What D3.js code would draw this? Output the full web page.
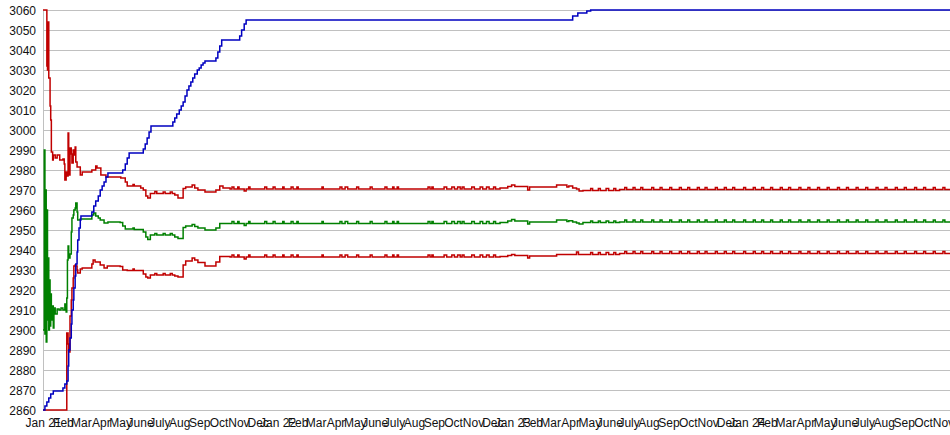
<!DOCTYPE html>
<html><head><meta charset="utf-8">
<script src="https://cdn.jsdelivr.net/npm/d3@7"></script>
<style>
html,body{margin:0;padding:0;background:#fff;}
svg{display:block;}
text{font-family:"Liberation Sans",Arial,sans-serif;}
</style></head>
<body><svg id="chart" width="950" height="435"></svg>
<script>
// ---------------- DATA ----------------
const startDate = "2021-01-01";
const endDay = 1411; // last day of data (days since startDate)
const yTicks = [2860,2870,2880,2890,2900,2910,2920,2930,2940,2950,2960,2970,2980,2990,3000,3010,3020,3030,3040,3050,3060];
const monthNames = ["Jan","Feb","Mar","Apr","May","June","July","Aug","Sep","Oct","Nov","Dec"];
const tickMonths = ["2021-01","2021-02","2021-03","2021-04","2021-05","2021-06","2021-07","2021-08","2021-09","2021-10","2021-11","2021-12",
 "2022-01","2022-02","2022-03","2022-04","2022-05","2022-06","2022-07","2022-08","2022-09","2022-10","2022-11","2022-12",
 "2023-01","2023-02","2023-03","2023-04","2023-05","2023-06","2023-07","2023-08","2023-09","2023-10","2023-11","2023-12",
 "2024-01","2024-02","2024-03","2024-04","2024-05","2024-06","2024-07","2024-08","2024-09","2024-10","2024-11"];

// [day since start, value]
const bluePoints = [[0,2860],[3,2862],[6,2864],[9,2866],[12,2868],[16,2869.5],[31,2871],[34,2873],[37,2874.5],[39,2882],[40,2890],[42,2896],[44,2903],[45,2910],[47,2915],[48,2921],[50,2927],[51,2933],[53,2939],[54,2945],[56,2951],[58,2955],[59,2957],[76,2959],[79,2962],[82,2964.5],[86,2967],[89,2970],[92,2972],[95,2974],[98,2976.5],[101,2978.5],[124,2980],[128,2983],[131,2986],[134,2988.5],[156,2990.5],[159,2993],[162,2996],[165,2999],[168,3002],[202,3004],[205,3006],[208,3008],[212,3010],[215,3012],[218,3014],[221,3017],[224,3020],[227,3022],[230,3024],[233,3026],[236,3028],[240,3030],[243,3031],[246,3032.5],[249,3033.5],[252,3034.5],[269,3036],[272,3039],[275,3042],[278,3045],[306,3047],[309,3050],[313,3053],[316,3055],[824,3057],[832,3058.5],[846,3059.5],[852,3060],[1411,3060]];

const upperPoints = [[0,3060],[6,3032],[7,3030],[8,3054],[9,3026],[11,3012],[12,3005],[13,2989],[15,2985],[16,2987.5],[19,2986],[22,2987.5],[26,2985],[31,2985.5],[33,2983],[34,2975],[36,2979],[37,2977],[39,2998.5],[40,2977.5],[42,2991],[44,2988],[45,2983.5],[47,2990],[48,2987.5],[50,2991.5],[51,2984],[53,2981.5],[58,2977.5],[61,2979],[76,2980],[82,2982],[84,2981],[90,2977.5],[98,2976.5],[121,2976],[128,2974],[131,2972],[140,2972.8],[142,2972],[152,2971],[156,2970],[160,2967],[163,2966],[167,2968.3],[174,2969.3],[177,2968.3],[187,2969],[190,2968.3],[198,2969],[201,2968.3],[205,2967.5],[210,2966],[218,2970.8],[222,2971.5],[232,2972.5],[236,2971],[241,2970],[252,2969],[269,2970],[275,2972],[280,2971],[291,2970.5],
 [294,2971.5],[297,2970.5],[303,2971.5],[305,2970.5],[313,2969.5],[316,2970.5],[320,2971.5],[322,2970.5],[345,2971.5],[348,2970.5],[358,2971.5],[361,2970.5],[373,2971.5],[375,2970.5],[386,2971.5],[389,2970.5],[395,2971.5],[397,2970.5],[434,2971.5],[436,2970.5],[462,2971.5],[465,2970.5],[470,2971.5],[474,2970.5],[488,2971.5],[491,2970.5],[509,2971.5],[512,2970.5],[532,2971.5],[535,2970.5],[544,2971.5],[546,2970.5],[551,2971.5],[553,2970.5],[599,2971.5],[602,2970.5],[605,2971.5],[607,2970.5],[624,2971.5],[628,2970.5],[636,2971.5],[640,2970.5],[645,2971.5],[649,2970.5],[652,2971.5],[655,2970.5],[667,2971.5],[671,2970.5],[680,2971.5],[684,2970.5],[690,2971.5],[694,2970.5],[701,2971.5],[704,2970.5],
 [711,2971],[723,2971.7],[729,2972.5],[734,2971.7],[754,2970],[757,2971.5],[799,2972.5],[815,2971.5],[818,2972],[824,2971],[830,2970.5],[834,2969.5],[840,2969.8],[852,2970.8],[855,2969.8],[864,2970.8],[867,2969.8],[876,2970.8],[880,2969.8],[888,2970.8],[891,2969.8],[897,2970.3],
 [905,2971.3],[908,2970.3],[918,2971.3],[921,2970.3],[930,2971.3],[933,2970.3],[947,2971.3],[950,2970.3],[960,2971.3],[963,2970.3],[975,2971.3],[978,2970.3],[990,2971.3],[993,2970.3],[1003,2971.3],[1006,2970.3],[1018,2971.3],[1021,2970.3],[1030,2971.3],[1033,2970.3],[1046,2971.3],[1049,2970.3],[1060,2971.3],[1063,2970.3],[1073,2971.3],[1076,2970.3],[1090,2971.3],[1093,2970.3],[1105,2971.3],[1108,2970.3],[1118,2971.3],[1121,2970.3],[1132,2971.3],[1135,2970.3],[1147,2971.3],[1150,2970.3],[1160,2971.3],[1163,2970.3],[1176,2971.3],[1179,2970.3],[1190,2971.3],[1193,2970.3],[1205,2971.3],[1208,2970.3],[1220,2971.3],[1223,2970.3],[1236,2971.3],[1239,2970.3],[1250,2971.3],[1253,2970.3],[1265,2971.3],[1268,2970.3],[1280,2971.3],[1283,2970.3],[1296,2971.3],[1299,2970.3],[1310,2971.3],[1313,2970.3],[1326,2971.3],[1329,2970.3],[1340,2971.3],[1343,2970.3],[1356,2971.3],[1359,2970.3],[1370,2971.3],[1373,2970.3],[1385,2971.3],[1388,2970.3],[1400,2971.3],[1403,2970.3],[1411,2970.3]];

const greenPoints = [[0,2900],[2,2990],[3,2898],[4,2970],[5,2894],[6,2960],[7,2905],[8,2936],[9,2900],[10,2925],[11,2902],[12,2918],[13,2905],[14,2912],[16,2901],[17,2911],[19,2908],[22,2910.5],[25,2910],[28,2911],[31,2910],[34,2913],[36,2909],[37,2916],[38,2935],[39,2942],[40,2936],[42,2938],[44,2949],[45,2956],[47,2957.5],[48,2960],[50,2961],[51,2963.5],[53,2959],[54,2955],[58,2955.5],[76,2957.5],[79,2958.5],[82,2957],[86,2956],[89,2955],[95,2953.5],[101,2954],[120,2953.7],[124,2952],[128,2950.5],[140,2951],[142,2950.3],[156,2949],[160,2946.5],[163,2945.3],[167,2947.5],[174,2948.3],[177,2947.5],[187,2948.2],[190,2947.5],[198,2948.2],[201,2947.5],[205,2946.5],[210,2945.8],[218,2951.3],[222,2952],[232,2952.7],[236,2951.7],[241,2951],[252,2950],[269,2951],[275,2953.3],[291,2953.3],
 [294,2954.3],[297,2953.3],[303,2954.3],[305,2953.3],[313,2952.3],[316,2953.3],[320,2954.3],[322,2953.3],[345,2954.3],[348,2953.3],[358,2954.3],[361,2953.3],[373,2954.3],[375,2953.3],[386,2954.3],[389,2953.3],[395,2954.3],[397,2953.3],[434,2954.3],[436,2953.3],[462,2954.3],[465,2953.3],[470,2954.3],[474,2953.3],[488,2954.3],[491,2953.3],[509,2954.3],[512,2953.3],[532,2954.3],[535,2953.3],[544,2954.3],[546,2953.3],[551,2954.3],[553,2953.3],[599,2954.3],[602,2953.3],[605,2954.3],[607,2953.3],[624,2954.3],[628,2953.3],[636,2954.3],[640,2953.3],[645,2954.3],[649,2953.3],[652,2954.3],[655,2953.3],[667,2954.3],[671,2953.3],[680,2954.3],[684,2953.3],[690,2954.3],[694,2953.3],[701,2954.3],[704,2953.3],
 [711,2953.8],[723,2954.5],[729,2955.2],[734,2954.5],[754,2953],[757,2954],[799,2955],[815,2954.2],[818,2954.6],[824,2954],[830,2953.5],[834,2953],[840,2953.7],[852,2954.5],[855,2953.7],[864,2954.5],[867,2953.7],[876,2954.5],[880,2953.7],[888,2954.5],[891,2953.7],[897,2954],
 [905,2955],[908,2954],[918,2955],[921,2954],[930,2955],[933,2954],[947,2955],[950,2954],[960,2955],[963,2954],[975,2955],[978,2954],[990,2955],[993,2954],[1003,2955],[1006,2954],[1018,2955],[1021,2954],[1030,2955],[1033,2954],[1046,2955],[1049,2954],[1060,2955],[1063,2954],[1073,2955],[1076,2954],[1090,2955],[1093,2954],[1105,2955],[1108,2954],[1118,2955],[1121,2954],[1132,2955],[1135,2954],[1147,2955],[1150,2954],[1160,2955],[1163,2954],[1176,2955],[1179,2954],[1190,2955],[1193,2954],[1205,2955],[1208,2954],[1220,2955],[1223,2954],[1236,2955],[1239,2954],[1250,2955],[1253,2954],[1265,2955],[1268,2954],[1280,2955],[1283,2954],[1296,2955],[1299,2954],[1310,2955],[1313,2954],[1326,2955],[1329,2954],[1340,2955],[1343,2954],[1356,2955],[1359,2954],[1370,2955],[1373,2954],[1385,2955],[1388,2954],[1400,2955],[1403,2954],[1411,2954]];

const lowerPoints = [[0,2860],[37,2898.5],[39,2893],[40,2889],[42,2907],[44,2915],[45,2921],[47,2926],[48,2932],[50,2932.5],[51,2932],[53,2930],[54,2928.5],[58,2930.5],[61,2931],[76,2933],[78,2935],[81,2934],[89,2932.5],[95,2931],[100,2932],[120,2931.7],[124,2930],[131,2929.7],[140,2930.5],[142,2929.7],[156,2928],[160,2926.5],[163,2926],[167,2927.5],[174,2928.3],[177,2927.5],[187,2928.2],[190,2927.5],[198,2928.2],[201,2927.5],[205,2927],[210,2926.5],[218,2932.5],[222,2934.5],[232,2936],[236,2935],[241,2933.7],[252,2932],[269,2934],[275,2936.7],[291,2936.5],
 [294,2937.5],[297,2936.5],[303,2937.5],[305,2936.5],[313,2935.5],[316,2936.5],[320,2937.5],[322,2936.5],[345,2937.5],[348,2936.5],[358,2937.5],[361,2936.5],[373,2937.5],[375,2936.5],[386,2937.5],[389,2936.5],[395,2937.5],[397,2936.5],[434,2937.5],[436,2936.5],[462,2937.5],[465,2936.5],[470,2937.5],[474,2936.5],[488,2937.5],[491,2936.5],[509,2937.5],[512,2936.5],[532,2937.5],[535,2936.5],[544,2937.5],[546,2936.5],[551,2937.5],[553,2936.5],[599,2937.5],[602,2936.5],[605,2937.5],[607,2936.5],[624,2937.5],[628,2936.5],[636,2937.5],[640,2936.5],[645,2937.5],[649,2936.5],[652,2937.5],[655,2936.5],[667,2937.5],[671,2936.5],[680,2937.5],[684,2936.5],[690,2937.5],[694,2936.5],[701,2937.5],[704,2936.5],
 [711,2936.8],[723,2937.2],[729,2937.8],[734,2937.2],[754,2936],[757,2937],[799,2937.8],[830,2939],[833,2937.8],[852,2938.8],[855,2937.8],[864,2938.8],[867,2937.8],[876,2938.8],[880,2937.8],[888,2938.8],[891,2937.8],[897,2938.3],
 [905,2939.3],[908,2938.3],[918,2939.3],[921,2938.3],[930,2939.3],[933,2938.3],[947,2939.3],[950,2938.3],[960,2939.3],[963,2938.3],[975,2939.3],[978,2938.3],[990,2939.3],[993,2938.3],[1003,2939.3],[1006,2938.3],[1018,2939.3],[1021,2938.3],[1030,2939.3],[1033,2938.3],[1046,2939.3],[1049,2938.3],[1060,2939.3],[1063,2938.3],[1073,2939.3],[1076,2938.3],[1090,2939.3],[1093,2938.3],[1105,2939.3],[1108,2938.3],[1118,2939.3],[1121,2938.3],[1132,2939.3],[1135,2938.3],[1147,2939.3],[1150,2938.3],[1160,2939.3],[1163,2938.3],[1176,2939.3],[1179,2938.3],[1190,2939.3],[1193,2938.3],[1205,2939.3],[1208,2938.3],[1220,2939.3],[1223,2938.3],[1236,2939.3],[1239,2938.3],[1250,2939.3],[1253,2938.3],[1265,2939.3],[1268,2938.3],[1280,2939.3],[1283,2938.3],[1296,2939.3],[1299,2938.3],[1310,2939.3],[1313,2938.3],[1326,2939.3],[1329,2938.3],[1340,2939.3],[1343,2938.3],[1356,2939.3],[1359,2938.3],[1370,2939.3],[1373,2938.3],[1385,2939.3],[1388,2938.3],[1400,2939.3],[1403,2938.3],[1411,2938.3]];

// ---------------- CHART ----------------
(function () {
const plotL = 43, plotR = 950, plotT = 10, plotB = 410;
const svg = d3.select("#chart");
const t0 = d3.utcParse("%Y-%m-%d")(startDate);
const toDate = d => d3.utcDay.offset(t0, d);

const x = d3.scaleUtc().domain([t0, toDate(endDay)]).range([plotL, plotR]);
const y = d3.scaleLinear().domain([2860, 3060]).range([plotB, plotT]);

// grid
svg.append("g").selectAll("line").data(yTicks).join("line")
  .attr("x1", plotL).attr("x2", plotR)
  .attr("y1", d => Math.round(y(d)) + 0.5).attr("y2", d => Math.round(y(d)) + 0.5)
  .attr("stroke", "#c0c0c0").attr("stroke-width", 1);
svg.append("line").attr("x1", plotL + 0.5).attr("x2", plotL + 0.5)
  .attr("y1", plotT).attr("y2", plotB + 0.5).attr("stroke", "#c0c0c0");

// y axis labels
const yAxis = d3.axisLeft(y).tickValues(yTicks).tickSize(0).tickPadding(7).tickFormat(d3.format("d"));
const gy = svg.append("g").attr("transform", `translate(${plotL},0.5)`).call(yAxis);
gy.select(".domain").remove();
gy.selectAll("text").attr("font-size", 12).attr("fill", "#111").attr("font-family", "Liberation Sans, Arial, sans-serif");

// x axis labels
const monthDates = tickMonths.map(s => d3.utcParse("%Y-%m")(s));
const xAxis = d3.axisBottom(x).tickValues(monthDates).tickSize(0).tickPadding(8)
  .tickFormat(d => d.getUTCMonth() === 0 ? monthNames[0] + " " + String(d.getUTCFullYear()).slice(2) : monthNames[d.getUTCMonth()]);
const gx = svg.append("g").attr("transform", `translate(0,${plotB})`).call(xAxis);
gx.select(".domain").remove();
gx.selectAll("text").attr("font-size", 12).attr("fill", "#111").attr("font-family", "Liberation Sans, Arial, sans-serif");

// lines
const line = d3.line().x(d => x(toDate(d[0]))).y(d => y(d[1])).curve(d3.curveStepAfter);
const series = [
  {pts: upperPoints, color: "#c00000"},
  {pts: lowerPoints, color: "#c00000"},
  {pts: greenPoints, color: "#008000"},
  {pts: bluePoints, color: "#0000c0"}
];
svg.append("g").selectAll("path").data(series).join("path")
  .attr("d", d => line(d.pts))
  .attr("fill", "none").attr("stroke", d => d.color).attr("stroke-width", 1.5);
})();
</script></body></html>
